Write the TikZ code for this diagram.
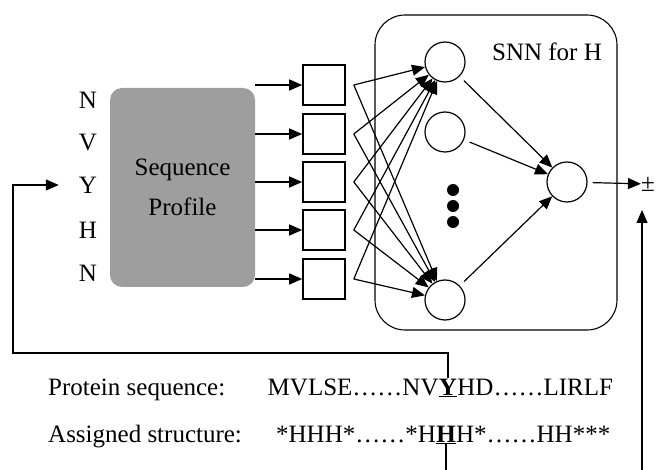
\documentclass[tikz,border=0pt]{standalone}
\usepackage{xcolor}
\usepackage{fontspec}
\setmainfont{Liberation Serif}
\usepackage{tikz}
\usetikzlibrary{shapes, arrows.meta, positioning}
\usetikzlibrary{calc}

\begin{document}
\begin{tikzpicture}
  [
    x=1pt, y=-1pt,
    Txt/.style={inner sep=0pt, font=\fontsize{25}{29}\selectfont},
    Profile/.style={rectangle, rounded corners=12pt, fill=black!38, minimum width=145pt, minimum height=199pt, align=center, font=\fontsize{25}{40}\selectfont},
    Unit/.style={rectangle, draw=black, line width=1.6pt, minimum width=42pt, minimum height=40pt},
    Hidden/.style={circle, draw=black, line width=1.2pt, minimum size=40pt},
    Dot/.style={circle, fill=black, inner sep=0pt, minimum size=12pt},
    Net/.style={rectangle, rounded corners=30pt, draw=black, line width=1.1pt, minimum width=242pt, minimum height=315pt},
    Arr/.style={-{Triangle[length=13pt, width=11pt]}, line width=1.2pt},
    Line/.style={line width=1.2pt}
  ]
  \useasboundingbox (0, 0) rectangle (656, 470);

  % Nodes
  \node[Txt] (aaN1) at(88, 100) {N};
  \node[Txt] (aaV) at(88, 143) {V};
  \node[Txt] (aaY) at(88, 185) {Y};
  \node[Txt] (aaH) at(88, 230) {H};
  \node[Txt] (aaN2) at(88, 273) {N};

  \node[Profile] (prof) at(182.5, 187.5) {Sequence\\Profile};

  \node[Unit] (u1) at(324, 85) {};
  \node[Unit] (u2) at(324, 134) {};
  \node[Unit] (u3) at(324, 182) {};
  \node[Unit] (u4) at(324, 230) {};
  \node[Unit] (u5) at(324, 279) {};

  \node[Net] (net) at(496, 172.5) {};
  \node[Txt] (netlbl) at(547, 52) {SNN for H};

  \node[Hidden] (h1) at(445, 62) {};
  \node[Hidden] (h2) at(445, 132) {};
  \node[Dot] (d1) at(453, 190) {};
  \node[Dot] (d2) at(453, 206) {};
  \node[Dot] (d3) at(453, 222) {};
  \node[Hidden] (h3) at(445, 300) {};
  \node[Hidden] (out) at(567, 182) {};
  \node[Txt] (pm) at(648, 184) {±};

  \node[Txt, anchor=base west] (seqlbl) at(48, 395) {Protein sequence:};
  \node[Txt, anchor=base] (seqY) at(448, 395) {\textbf{\underline{Y}}};
  \node[Txt, anchor=base east] (seqL) at(seqY.base west) {MVLSE……NV};
  \node[Txt, anchor=base west] (seqR) at(seqY.base east) {HD……LIRLF};

  \node[Txt, anchor=base west] (strlbl) at(48, 442) {Assigned structure:};
  \node[Txt, anchor=base] (strH) at(446, 442) {\textbf{\underline{H}}};
  \node[Txt, anchor=base east] (strL) at(strH.base west) {*HHH*……*H};
  \node[Txt, anchor=base west] (strR) at(strH.base east) {H*……HH***};

  \coordinate (fbL) at(13, 353);
  \coordinate (fbB) at(449, 470);
  \coordinate (fbR) at(642, 470);
  \coordinate (fbT) at(642, 210);

  % Lines
  \path [Arr, draw] (prof.east |- u1.west) -- (u1.west);
  \path [Arr, draw] (prof.east |- u2.west) -- (u2.west);
  \path [Arr, draw] (prof.east |- u3.west) -- (u3.west);
  \path [Arr, draw] (prof.east |- u4.west) -- (u4.west);
  \path [Arr, draw] (prof.east |- u5.west) -- (u5.west);

  \path [Arr, draw] ([xshift=8pt]u1.east) -- (h1);
  \path [Arr, draw] ([xshift=8pt]u2.east) -- (h1);
  \path [Arr, draw] ([xshift=8pt]u3.east) -- (h1);
  \path [Arr, draw] ([xshift=8pt]u4.east) -- (h1);
  \path [Arr, draw] ([xshift=8pt]u5.east) -- (h1);
  \path [Arr, draw] ([xshift=8pt]u1.east) -- (h3);
  \path [Arr, draw] ([xshift=8pt]u2.east) -- (h3);
  \path [Arr, draw] ([xshift=8pt]u3.east) -- (h3);
  \path [Arr, draw] ([xshift=8pt]u4.east) -- (h3);
  \path [Arr, draw] ([xshift=8pt]u5.east) -- (h3);

  \path [Arr, draw, shorten <=6pt] (h1) -- (out);
  \path [Arr, draw, shorten <=6pt] (h2) -- (out);
  \path [Arr, draw, shorten <=6pt] (h3) -- (out);
  \path [Arr, draw, shorten <=5pt] (out) -- (pm);

  \path [Arr, draw, shorten >=20pt] (seqY.north) |- (fbL) |- (aaY.west);
  \path [Line, draw] (strH.south) -- (strH.south |- fbB);
  \path [Arr, draw] (fbR) -- (fbT);

\end{tikzpicture}
\end{document}
